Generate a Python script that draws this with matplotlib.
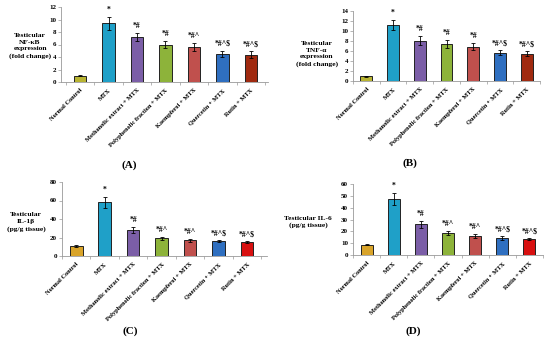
import matplotlib.pyplot as plt

groups = ['Normal Control', 'MTX', 'Methanolic extract + MTX', 'Polyphenolic fraction + MTX',
          'Kaempferol + MTX', 'Quercetin + MTX', 'Rutin + MTX']

nfkb = [1.0, 9.4, 7.2, 6.0, 5.6, 4.5, 4.4]
nfkb_err = [0.1, 1.0, 0.7, 0.6, 0.6, 0.5, 0.5]
nfkb_sig = ['', '*', '*#', '*#', '*#^', '*#^$', '*#^$']

tnf = [1.0, 11.3, 8.1, 7.4, 6.9, 5.7, 5.5]
tnf_err = [0.1, 1.0, 0.9, 0.8, 0.7, 0.5, 0.5]
tnf_sig = ['', '*', '*#', '*#', '*#', '*#^$', '*#^$']

il1b = [11, 58, 28, 19, 17, 16, 15]
il1b_err = [1.0, 6.0, 3.0, 2.0, 1.5, 1.2, 1.2]
il1b_sig = ['', '*', '*#', '*#^', '*#^', '*#^$', '*#^$']

il6 = [8.5, 47.5, 26, 18.5, 16, 14.5, 13.5]
il6_err = [0.4, 5.0, 3.0, 2.0, 2.0, 1.5, 1.0]
il6_sig = ['', '*', '*#', '*#^', '*#^', '*#^$', '*#^$']

colors_ab = ['#b8b432', '#1fa0c8', '#7b5ea7', '#8db33a', '#c0504d', '#2f6fc0', '#a02a10']
colors_cd = ['#d9a42a', '#1fa0c8', '#7b5ea7', '#8db33a', '#c0504d', '#2f6fc0', '#d81010']

serif = 'Liberation Serif'

panels = [
    # rect, values, errors, sig, colors, ylim, step, xlim, ylabel, ylabel pos, letter, letter pos
    ([61 / 550, 1 - 82 / 348, 207 / 550, 75 / 348], nfkb, nfkb_err, nfkb_sig, colors_ab, 12, 2,
     (-0.67, 6.6), 'Testicular\nNF-\u03baB\nexpression\n(fold change)', (30, 46), '(A)', (129, 165)),
    ([353 / 550, 1 - 81 / 348, 187 / 550, 70 / 348], tnf, tnf_err, tnf_sig, colors_ab, 14, 2,
     (-0.5, 6.45), 'Testicular\nTNF-\u03b1\nexpression\n(fold change)', (317, 54), '(B)', (410, 163)),
    ([62 / 550, 1 - 256 / 348, 205 / 550, 74 / 348], il1b, il1b_err, il1b_sig, colors_cd, 80, 20,
     (-0.49, 6.7), 'Testicular\nIL-1\u03b2\n(pg/g tissue)', (26, 222), '(C)', (130, 331)),
    ([353 / 550, 1 - 255 / 348, 190 / 550, 71 / 348], il6, il6_err, il6_sig, colors_cd, 60, 10,
     (-0.5, 6.47), 'Testicular IL-6\n(pg/g tissue)', (308, 222), '(D)', (413, 331)),
]

fig = plt.figure(figsize=(5.5, 3.48), dpi=100)

for rect, vals, errs, sig, cols, ymax, step, xlim, ylab, ylpos, letter, lpos in panels:
    ax = fig.add_axes(rect)
    x = range(len(groups))
    ax.bar(x, vals, width=0.44, color=cols, edgecolor='#222222', linewidth=0.7,
           yerr=errs, error_kw=dict(ecolor='black', elinewidth=0.6, capsize=1.5, capthick=0.6))
    for i, s in enumerate(sig):
        if s:
            ax.text(i, vals[i] + errs[i] + ymax * 0.04, s, ha='center', va='bottom',
                    fontsize=5.5, family=serif, fontweight='bold')
    ax.set_ylim(0, ymax)
    ax.set_xlim(*xlim)
    ax.set_yticks(range(0, ymax + 1, step))
    ax.set_xticks(list(x))
    ax.set_xticklabels(groups, rotation=45, ha='right', rotation_mode='anchor',
                       fontsize=4.6, family=serif, fontweight='bold')
    ax.set_xticks([i + 0.5 for i in range(-1, len(groups))], minor=True)
    ax.tick_params(axis='x', which='major', length=0, pad=4)
    ax.tick_params(axis='x', which='minor', length=2, width=0.5, color='#999999')
    ax.tick_params(axis='y', length=2, width=0.5, color='#999999', pad=1.5)
    for lab in ax.get_yticklabels():
        lab.set_fontsize(5)
        lab.set_family(serif)
        lab.set_fontweight('bold')
    for sp in ['top', 'right']:
        ax.spines[sp].set_visible(False)
    for sp in ['left', 'bottom']:
        ax.spines[sp].set_color('#999999')
        ax.spines[sp].set_linewidth(0.6)
    fig.text(ylpos[0] / 550, 1 - ylpos[1] / 348, ylab, ha='center', va='center',
             fontsize=5.4, family=serif, fontweight='bold', linespacing=1.4)
    fig.text(lpos[0] / 550, 1 - lpos[1] / 348, letter, ha='center', va='center',
             fontsize=8, family=serif, fontweight='bold')

fig.savefig('out.png', dpi=100)
